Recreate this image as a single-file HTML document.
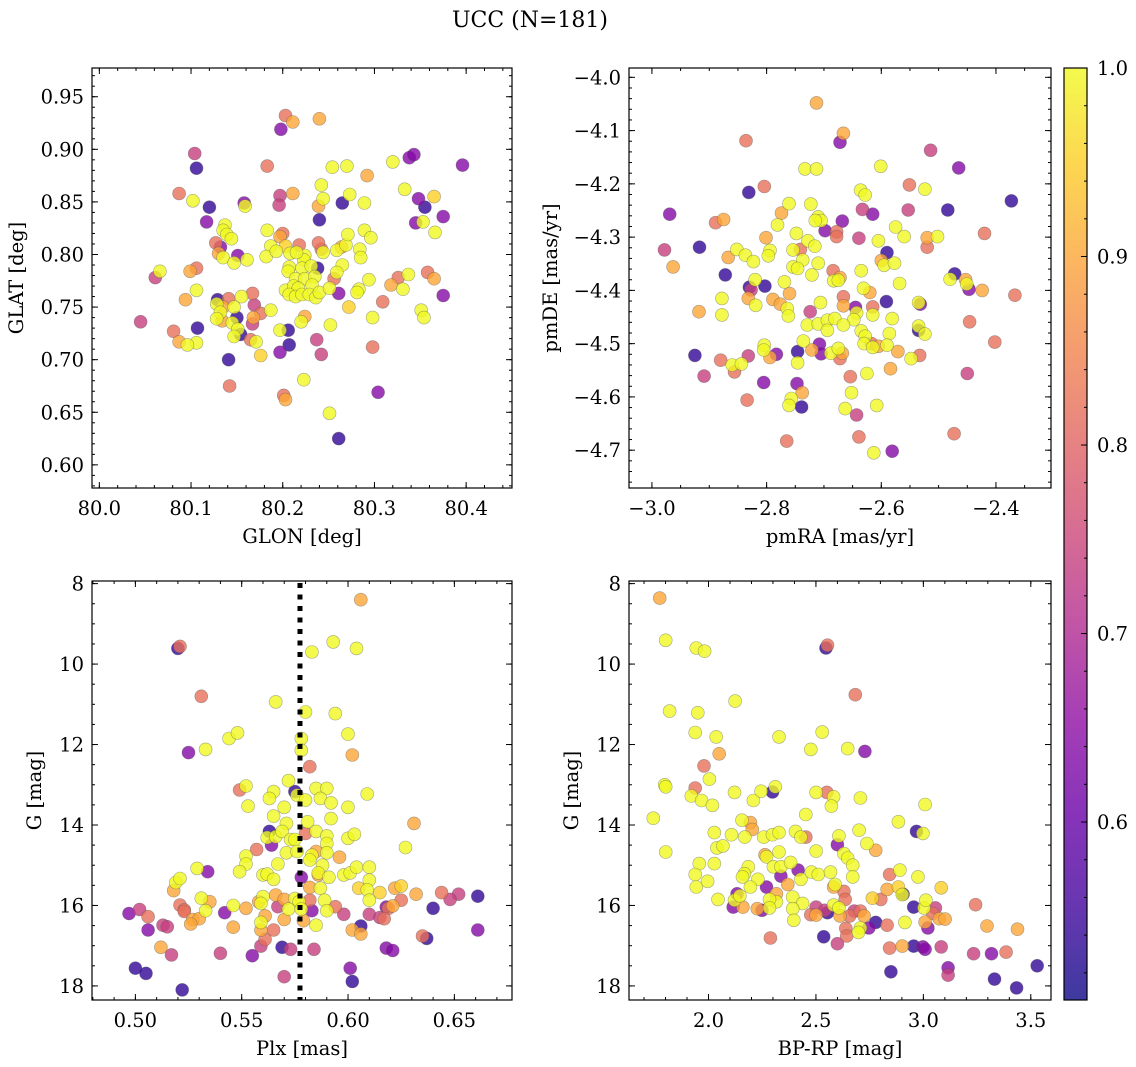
<!DOCTYPE html>
<html><head><meta charset="utf-8"><title>UCC (N=181)</title>
<style>
html,body{margin:0;padding:0;background:#fff;}
svg{display:block;font-family:"DejaVu Serif","Liberation Serif",serif;}
</style></head>
<body>
<svg id="chart" width="1136" height="1067" viewBox="0 0 1136 1067" xmlns="http://www.w3.org/2000/svg">
<defs>
<linearGradient id="plasmaGrad" x1="0" y1="1" x2="0" y2="0">
<stop offset="0" stop-color="#0d0887"/><stop offset="0.1" stop-color="#41049d"/><stop offset="0.2" stop-color="#6a00a8"/><stop offset="0.3" stop-color="#8f0da4"/><stop offset="0.4" stop-color="#b12a90"/><stop offset="0.5" stop-color="#cc4778"/><stop offset="0.6" stop-color="#e16462"/><stop offset="0.7" stop-color="#f2844b"/><stop offset="0.8" stop-color="#fca636"/><stop offset="0.9" stop-color="#fcce25"/><stop offset="1" stop-color="#f0f921"/>
</linearGradient>
</defs>
<text x="530" y="27" text-anchor="middle" font-size="22">UCC (N=181)</text>
</svg>
<script>
// ---------- Panel 1: GLON / GLAT ----------
const p1Glon=[80.203,80.211,80.240,80.198,80.104,80.106,80.183,80.338,80.343,80.396,80.320,80.254,80.270,80.292,80.087,80.102,80.120,80.117,80.158,80.159,80.197,80.196,80.211,80.242,80.244,80.239,80.240,80.265,80.273,80.289,80.333,80.348,80.355,80.365,80.345,80.353,80.375,80.366,80.137,80.135,80.139,80.144,80.127,80.132,80.130,80.135,80.147,80.151,80.161,80.183,80.187,80.182,80.193,80.197,80.200,80.203,80.208,80.218,80.224,80.223,80.215,80.207,80.206,80.221,80.231,80.238,80.242,80.239,80.244,80.259,80.269,80.271,80.264,80.289,80.296,80.284,80.285,80.265,80.259,80.256,80.214,80.224,80.235,80.232,80.203,80.212,80.217,80.207,80.214,80.221,80.229,80.236,80.240,80.251,80.261,80.272,80.283,80.281,80.294,80.318,80.326,80.331,80.337,80.358,80.365,80.375,80.351,80.354,80.309,80.298,80.298,80.252,80.237,80.242,80.224,80.220,80.187,80.197,80.206,80.207,80.197,80.176,80.169,80.167,80.168,80.167,80.165,80.171,80.176,80.155,80.141,80.129,80.128,80.135,80.132,80.147,80.150,80.128,80.134,80.145,80.151,80.154,80.147,80.141,80.142,80.106,80.107,80.106,80.096,80.087,80.081,80.094,80.106,80.099,80.066,80.061,80.045,80.223,80.201,80.203,80.251,80.304,80.261];
const p1Glat=[0.932,0.926,0.929,0.919,0.896,0.882,0.884,0.892,0.895,0.885,0.888,0.883,0.884,0.875,0.858,0.851,0.845,0.831,0.849,0.846,0.856,0.847,0.858,0.866,0.853,0.846,0.833,0.849,0.857,0.849,0.862,0.853,0.845,0.855,0.830,0.831,0.836,0.821,0.828,0.823,0.819,0.815,0.811,0.807,0.801,0.797,0.792,0.799,0.795,0.823,0.808,0.798,0.803,0.817,0.820,0.808,0.801,0.809,0.799,0.795,0.802,0.788,0.784,0.787,0.789,0.787,0.805,0.811,0.802,0.804,0.809,0.819,0.807,0.823,0.816,0.805,0.797,0.790,0.783,0.777,0.777,0.777,0.779,0.771,0.766,0.770,0.768,0.762,0.760,0.762,0.762,0.759,0.764,0.768,0.763,0.750,0.767,0.764,0.776,0.771,0.778,0.767,0.781,0.783,0.777,0.761,0.747,0.740,0.755,0.740,0.712,0.733,0.719,0.705,0.741,0.736,0.747,0.728,0.728,0.714,0.707,0.744,0.752,0.763,0.740,0.734,0.719,0.717,0.704,0.760,0.758,0.757,0.753,0.750,0.745,0.750,0.740,0.739,0.737,0.735,0.729,0.724,0.722,0.700,0.675,0.766,0.730,0.716,0.714,0.717,0.727,0.757,0.787,0.784,0.784,0.778,0.736,0.681,0.666,0.662,0.649,0.669,0.625];
const p1Prob=[.82,.9,.9,.64,.74,.54,.82,.64,.64,.64,1,1,1,.9,.82,1,.54,.64,.64,1,.74,.74,.9,1,1,.9,.54,.54,1,1,1,.64,.54,.95,.64,1,.64,1,1,1,1,1,.82,.64,.9,1,1,.64,1,1,1,1,1,.9,.82,.95,1,.82,1,1,1,1,1,1,1,.54,.82,.82,1,1,1,1,.9,1,1,1,1,1,1,.82,1,1,1,1,1,1,1,1,1,1,1,1,1,1,.64,.95,1,1,1,.9,.82,1,1,.82,.9,.64,1,1,.82,1,.82,1,.74,.74,.9,1,1,1,.54,.54,.64,.82,.74,.82,.9,.74,.82,1,.95,1,.82,.54,1,.9,1,1,.54,1,.9,1,1,.54,1,.54,.82,1,.54,1,1,.9,.82,.9,.82,.9,1,.74,.74,1,.82,.9,1,.64,.54];

// ---------- Panel 2: pmRA / pmDE ----------
const p2Pmra=[-2.713,-2.836,-2.666,-2.672,-2.514,-2.465,-2.733,-2.713,-2.601,-2.831,-2.804,-2.551,-2.524,-2.636,-2.628,-2.373,-2.484,-2.553,-2.633,-2.615,-2.969,-2.889,-2.875,-2.761,-2.774,-2.781,-2.723,-2.710,-2.705,-2.715,-2.668,-2.698,-2.678,-2.678,-2.639,-2.575,-2.560,-2.502,-2.520,-2.520,-2.420,-2.605,-2.801,-2.748,-2.728,-2.716,-2.978,-2.917,-2.963,-2.867,-2.852,-2.837,-2.823,-2.794,-2.797,-2.754,-2.741,-2.737,-2.710,-2.754,-2.746,-2.872,-2.721,-2.684,-2.672,-2.683,-2.675,-2.635,-2.600,-2.595,-2.577,-2.590,-2.568,-2.472,-2.480,-2.453,-2.451,-2.447,-2.424,-2.367,-2.820,-2.830,-2.827,-2.832,-2.803,-2.769,-2.760,-2.789,-2.776,-2.764,-2.762,-2.819,-2.878,-2.878,-2.918,-2.706,-2.666,-2.666,-2.645,-2.643,-2.648,-2.631,-2.620,-2.615,-2.615,-2.591,-2.581,-2.535,-2.532,-2.724,-2.729,-2.710,-2.694,-2.681,-2.666,-2.694,-2.635,-2.628,-2.630,-2.617,-2.615,-2.605,-2.586,-2.590,-2.535,-2.524,-2.535,-2.446,-2.402,-2.736,-2.804,-2.805,-2.708,-2.705,-2.721,-2.688,-2.675,-2.668,-2.672,-2.746,-2.783,-2.794,-2.746,-2.925,-2.880,-2.860,-2.844,-2.856,-2.832,-2.909,-2.571,-2.548,-2.533,-2.584,-2.625,-2.654,-2.805,-2.747,-2.738,-2.652,-2.757,-2.761,-2.739,-2.834,-2.663,-2.608,-2.643,-2.450,-2.765,-2.639,-2.473,-2.613,-2.581];
const p2Pmde=[-4.048,-4.119,-4.105,-4.122,-4.137,-4.170,-4.172,-4.172,-4.167,-4.216,-4.205,-4.202,-4.210,-4.212,-4.221,-4.232,-4.249,-4.249,-4.248,-4.257,-4.257,-4.273,-4.267,-4.237,-4.255,-4.277,-4.238,-4.262,-4.269,-4.269,-4.270,-4.288,-4.290,-4.299,-4.302,-4.281,-4.299,-4.299,-4.301,-4.319,-4.293,-4.307,-4.301,-4.293,-4.307,-4.317,-4.324,-4.319,-4.356,-4.338,-4.323,-4.334,-4.346,-4.325,-4.335,-4.324,-4.323,-4.343,-4.349,-4.356,-4.359,-4.371,-4.371,-4.363,-4.376,-4.382,-4.381,-4.363,-4.344,-4.353,-4.349,-4.329,-4.387,-4.369,-4.379,-4.380,-4.388,-4.398,-4.400,-4.409,-4.380,-4.394,-4.399,-4.415,-4.392,-4.384,-4.406,-4.417,-4.426,-4.434,-4.448,-4.428,-4.415,-4.446,-4.440,-4.423,-4.412,-4.429,-4.432,-4.442,-4.455,-4.396,-4.404,-4.431,-4.446,-4.421,-4.453,-4.423,-4.426,-4.440,-4.465,-4.463,-4.456,-4.453,-4.465,-4.475,-4.476,-4.486,-4.500,-4.500,-4.507,-4.505,-4.481,-4.503,-4.467,-4.482,-4.475,-4.459,-4.497,-4.495,-4.503,-4.512,-4.501,-4.519,-4.512,-4.518,-4.509,-4.518,-4.528,-4.515,-4.520,-4.526,-4.536,-4.522,-4.531,-4.540,-4.538,-4.553,-4.523,-4.561,-4.515,-4.528,-4.522,-4.547,-4.556,-4.562,-4.573,-4.575,-4.592,-4.592,-4.603,-4.616,-4.619,-4.606,-4.622,-4.616,-4.634,-4.556,-4.683,-4.675,-4.669,-4.705,-4.702];
const p2Prob=[.9,.82,.9,.64,.74,.64,1,1,1,.54,.82,.82,1,1,1,.54,.54,.74,.74,.64,.64,.82,.9,1,.9,1,1,1,1,1,.64,.64,.82,.82,.74,1,1,1,.9,.82,.82,1,.9,1,1,1,.74,.54,.9,.9,1,1,1,1,1,1,.82,1,1,1,1,.54,1,.82,.9,1,1,1,.9,1,1,.54,1,.54,1,.9,1,.64,.9,.82,1,.54,.74,.9,.54,1,.9,.9,.9,1,1,1,1,1,.9,1,.82,.9,.64,1,1,1,.9,.82,1,.54,1,1,.64,.74,1,1,1,1,1,1,1,1,1,.82,1,.9,1,1,1,1,.54,.82,.82,1,1,1,.64,.64,.9,1,1,.9,.82,.54,.64,.9,1,.54,.82,1,1,.82,.74,.74,.9,1,.82,.9,1,.82,.64,.64,.9,1,1,1,.54,.82,1,1,.74,.74,.82,.82,.82,1,.64];

// ---------- Panel 3: Plx / G ----------
const p3Plx=[0.606,0.593,0.583,0.604,0.520,0.521,0.531,0.566,0.580,0.594,0.544,0.548,0.533,0.525,0.600,0.578,0.578,0.602,0.582,0.572,0.549,0.552,0.565,0.563,0.575,0.576,0.580,0.585,0.590,0.587,0.592,0.609,0.553,0.570,0.600,0.565,0.571,0.581,0.592,0.631,0.563,0.562,0.566,0.569,0.573,0.575,0.580,0.585,0.590,0.590,0.600,0.603,0.627,0.557,0.564,0.571,0.576,0.583,0.582,0.585,0.590,0.596,0.552,0.552,0.567,0.549,0.529,0.534,0.519,0.521,0.518,0.560,0.562,0.565,0.578,0.588,0.586,0.591,0.586,0.598,0.601,0.604,0.610,0.610,0.605,0.609,0.615,0.587,0.582,0.622,0.625,0.632,0.644,0.652,0.661,0.648,0.531,0.535,0.546,0.552,0.560,0.559,0.558,0.566,0.570,0.575,0.577,0.582,0.589,0.590,0.594,0.610,0.625,0.621,0.619,0.618,0.640,0.521,0.523,0.523,0.497,0.502,0.506,0.527,0.530,0.533,0.542,0.561,0.567,0.572,0.578,0.583,0.579,0.570,0.598,0.610,0.615,0.617,0.526,0.513,0.515,0.506,0.546,0.559,0.559,0.565,0.585,0.606,0.602,0.606,0.661,0.637,0.635,0.561,0.559,0.569,0.573,0.584,0.512,0.517,0.540,0.555,0.618,0.621,0.500,0.505,0.570,0.601,0.602,0.522];
const p3G=[8.40,9.45,9.70,9.61,9.61,9.56,10.80,10.94,11.19,11.23,11.85,11.71,12.12,12.20,11.74,11.85,12.14,12.26,12.55,12.90,13.13,13.03,13.17,13.34,13.17,13.26,13.38,13.09,13.09,13.34,13.45,13.23,13.53,13.56,13.56,13.78,13.96,13.92,13.84,13.96,14.16,14.31,14.29,14.16,14.36,14.36,14.21,14.16,14.27,14.46,14.33,14.23,14.56,14.61,14.50,14.69,14.66,14.75,14.87,14.66,14.69,14.80,14.77,14.97,14.97,15.16,15.08,15.16,15.43,15.33,15.63,15.24,15.22,15.35,15.30,15.00,15.19,15.30,15.24,15.24,15.19,15.05,15.05,15.37,15.57,15.61,15.68,15.57,15.55,15.57,15.52,15.72,15.68,15.72,15.77,15.85,15.82,15.91,16.00,16.07,15.78,15.95,15.91,15.74,15.85,15.83,15.91,15.87,15.87,16.13,16.03,15.87,15.87,16.01,16.07,16.04,16.07,15.99,16.11,16.15,16.20,16.10,16.28,16.35,16.33,16.13,16.18,16.26,16.03,16.09,16.09,16.13,16.38,16.35,16.22,16.22,16.30,16.33,16.46,16.49,16.53,16.61,16.54,16.42,16.61,16.61,16.49,16.51,16.61,16.71,16.61,16.82,16.76,16.84,17.01,17.04,17.09,17.09,17.04,17.23,17.19,17.25,17.06,17.12,17.56,17.69,17.77,17.56,17.89,18.10];
const p3Prob=[.9,1,1,1,.54,.82,.82,1,1,1,1,1,1,.64,1,1,1,.9,.82,1,.82,1,1,1,.54,1,1,1,1,1,1,1,1,1,1,1,1,1,1,.9,.54,1,1,1,1,1,.82,1,1,1,1,1,1,.82,.64,1,1,1,1,.9,1,.9,1,1,1,1,1,.64,1,1,.9,1,1,1,.64,1,1,1,.9,1,1,1,1,1,.95,1,.95,1,.9,.9,.95,.9,.82,.74,.54,.74,1,.9,1,.9,1,1,.9,.9,.9,1,1,.82,1,1,.82,1,.82,.9,.82,.64,.54,.82,.82,.82,.64,.74,.82,.9,.9,1,.64,.9,.74,1,1,.64,.9,.9,.74,.74,.74,.82,.9,.74,.74,.64,.9,1,.9,.82,1,.54,.9,.9,.64,.54,.82,.82,.74,.54,.74,.74,.9,.74,.74,.64,.64,.64,.54,.54,.74,.64,.54,.54];

// ---------- Panel 4: BP-RP / G ----------
const p4Bprp=[1.773,1.801,1.943,1.982,2.547,2.554,1.819,1.950,2.124,2.683,1.938,2.036,2.328,2.529,2.476,2.648,2.728,2.050,1.979,1.796,1.801,2.004,1.938,1.920,1.968,2.018,2.121,2.209,2.245,2.298,2.311,2.501,2.551,2.582,2.572,2.707,1.743,2.453,2.156,2.195,2.204,3.008,2.884,2.968,2.998,2.027,2.107,2.169,2.257,2.298,2.328,2.405,2.453,2.430,2.607,2.701,2.600,2.737,2.778,1.801,2.039,2.067,2.328,2.263,2.270,2.501,2.630,2.648,2.671,1.957,2.027,2.185,2.167,2.158,2.302,2.337,2.382,2.417,2.337,2.430,2.479,2.511,2.568,2.671,1.938,1.943,1.996,2.230,2.195,2.369,2.270,2.589,2.582,2.630,2.636,2.843,2.891,2.975,3.083,2.831,2.884,2.905,2.902,2.763,2.802,2.044,2.121,2.146,2.133,2.115,2.160,2.316,2.316,2.284,2.392,2.438,2.227,2.249,2.284,2.392,2.397,2.476,2.501,2.501,2.541,2.554,2.582,2.607,2.612,2.678,2.657,2.724,2.707,2.955,3.003,3.012,3.056,3.044,3.074,3.101,3.008,3.021,2.914,2.778,2.831,2.746,2.707,2.698,2.639,2.643,2.536,2.288,2.600,3.243,3.296,3.438,2.843,2.902,2.955,2.998,3.008,3.083,3.234,3.317,3.385,3.115,3.115,2.849,3.331,3.434,3.530];
const p4G=[8.36,9.41,9.60,9.68,9.60,9.53,11.17,11.21,10.92,10.76,11.70,11.81,11.81,11.69,12.12,12.10,12.17,12.23,12.53,13.00,13.05,12.86,13.08,13.28,13.39,13.51,13.19,13.39,13.16,13.18,13.05,13.19,13.19,13.30,13.53,13.33,13.83,13.74,13.88,13.94,14.11,13.49,13.92,14.16,14.21,14.19,14.24,14.30,14.30,14.24,14.19,14.16,14.30,14.30,14.27,14.13,14.49,14.46,14.63,14.67,14.57,14.52,14.67,14.74,14.79,14.65,14.71,14.82,15.00,14.96,14.96,15.04,15.21,15.29,15.04,15.04,14.93,15.12,15.27,15.35,15.17,15.23,15.17,15.29,15.23,15.54,15.40,15.35,15.54,15.48,15.54,15.48,15.54,15.65,15.85,15.23,15.12,15.29,15.56,15.60,15.54,15.72,15.73,15.82,15.85,15.85,15.87,15.76,15.71,16.04,16.04,15.71,15.91,15.85,15.79,15.95,16.08,16.12,16.06,16.08,16.37,16.23,16.04,16.24,16.12,16.18,15.99,16.06,16.26,16.14,16.26,16.26,16.14,16.04,16.06,15.87,16.06,16.20,16.33,16.34,16.41,16.56,16.42,16.42,16.49,16.56,16.56,16.67,16.57,16.76,16.78,16.81,16.95,15.98,16.51,16.59,17.06,17.01,17.01,17.03,17.09,17.03,17.20,17.20,17.16,17.55,17.73,17.65,17.83,18.05,17.50];
const p4Prob=[.9,1,1,1,.54,.82,1,1,1,.82,1,1,1,1,1,1,.64,.9,.82,1,1,1,.82,1,1,1,1,1,1,.54,1,1,.82,1,1,1,1,1,1,.9,.9,1,1,.54,1,1,1,1,1,1,1,1,.82,1,1,1,.64,1,.9,1,1,1,1,.9,1,1,1,1,1,1,1,1,1,1,1,1,1,.64,.64,1,1,1,1,1,1,1,1,1,1,.9,.64,1,.9,.82,.82,.82,1,1,.95,.9,.95,.54,1,.95,.82,1,1,1,.64,.64,.9,.9,1,1,1,1,.9,.64,1,1,1,.82,.74,.9,.74,.54,1,1,.9,.74,.82,.9,.82,.54,1,1,.74,.82,.9,.9,.9,.64,1,.54,.82,.64,1,1,.82,.82,.54,.82,.74,.82,.9,.9,.82,.9,.54,.64,.64,.74,.74,.64,.82,.64,.74,.54,.54,.54,.54];

const plxLine=[0.5774];
const cbarTicks=[0.6,0.7,0.8,0.9,1.0];
const VMIN=0.5056, VMAX=1.0;

const NS="http://www.w3.org/2000/svg";
const svg=document.getElementById('chart');
const TICKFS=19.5, LABFS=19.5;
const plasma=['#0d0887','#41049d','#6a00a8','#8f0da4','#b12a90','#cc4778','#e16462','#f2844b','#fca636','#fcce25','#f0f921'];
function hex(h){return [parseInt(h.substr(1,2),16),parseInt(h.substr(3,2),16),parseInt(h.substr(5,2),16)];}
function cmap(v){
  let t=(v-VMIN)/(VMAX-VMIN); t=Math.max(0,Math.min(1,t));
  const f=t*10, i=Math.min(9,Math.floor(f)), r=f-i;
  const a=hex(plasma[i]), b=hex(plasma[i+1]);
  return 'rgb('+a.map((c,k)=>Math.round(c+(b[k]-c)*r)).join(',')+')';
}
function el(tag,attrs,parent){
  const e=document.createElementNS(NS,tag);
  for(const k in attrs) e.setAttribute(k,attrs[k]);
  (parent||svg).appendChild(e);
  return e;
}
function fmt(v,d){return (v<0?'\u2212':'')+Math.abs(v).toFixed(d);}

function makeAxes(cfg){
  const g=el('g',{});
  
  
  const sx=v=>cfg.px0+(v-cfg.xd0)/(cfg.xd1-cfg.xd0)*(cfg.px1-cfg.px0);
  const sy=cfg.invert? (v=>cfg.py0+(v-cfg.yd0)/(cfg.yd1-cfg.yd0)*(cfg.py1-cfg.py0))
                     : (v=>cfg.py1-(v-cfg.yd0)/(cfg.yd1-cfg.yd0)*(cfg.py1-cfg.py0));
  const ticks=(lo,hi,step)=>{const out=[];const s=Math.ceil(lo/step-1e-6);for(let k=s;k*step<=hi+1e-9;k++)out.push(+(k*step).toFixed(6));return out;};
  const xlo=Math.min(cfg.xd0,cfg.xd1), xhi=Math.max(cfg.xd0,cfg.xd1);
  const ylo=Math.min(cfg.yd0,cfg.yd1), yhi=Math.max(cfg.yd0,cfg.yd1);
  const tg=el('g',{stroke:'#000','stroke-width':1},g);
  ticks(xlo,xhi,cfg.xminor).forEach(v=>{const x=sx(v);el('line',{x1:x,x2:x,y1:cfg.py1,y2:cfg.py1-3},tg);el('line',{x1:x,x2:x,y1:cfg.py0,y2:cfg.py0+3},tg);});
  ticks(ylo,yhi,cfg.yminor).forEach(v=>{const y=sy(v);el('line',{x1:cfg.px0,x2:cfg.px0+3,y1:y,y2:y},tg);el('line',{x1:cfg.px1,x2:cfg.px1-3,y1:y,y2:y},tg);});
  ticks(xlo,xhi,cfg.xmajor).forEach(v=>{const x=sx(v);el('line',{x1:x,x2:x,y1:cfg.py1,y2:cfg.py1-6},tg);el('line',{x1:x,x2:x,y1:cfg.py0,y2:cfg.py0+6},tg);
    const t=el('text',{x:x,y:cfg.py1+27,'text-anchor':'middle','font-size':TICKFS,stroke:'none',fill:'#000'},g);t.textContent=fmt(v,cfg.xdec);
    
    });
  ticks(ylo,yhi,cfg.ymajor).forEach(v=>{const y=sy(v);el('line',{x1:cfg.px0,x2:cfg.px0+6,y1:y,y2:y},tg);el('line',{x1:cfg.px1,x2:cfg.px1-6,y1:y,y2:y},tg);
    const t=el('text',{x:cfg.px0-8,y:y+7,'text-anchor':'end','font-size':TICKFS,fill:'#000'},g);t.textContent=fmt(v,cfg.ydec);
    
    });
  const fr=el('rect',{x:cfg.px0,y:cfg.py0,width:cfg.px1-cfg.px0,height:cfg.py1-cfg.py0,fill:'none',stroke:'#000','stroke-width':1.2},g);
  
  
  const xl=el('text',{x:(cfg.px0+cfg.px1)/2,y:cfg.py1+55,'text-anchor':'middle','font-size':LABFS},g);xl.textContent=cfg.xlabel;
  
  
  const yx=cfg.ylabx, yy=(cfg.py0+cfg.py1)/2;
  const yl=el('text',{x:yx,y:yy,'text-anchor':'middle','font-size':LABFS,transform:'rotate(-90 '+yx+' '+yy+')'},g);yl.textContent=cfg.ylabel;
  
  
  return {g,sx,sy};
}

function scatter(ax,xs,ys,ps,name){
  const idx=xs.map((_,i)=>i).sort((a,b)=>ps[a]-ps[b]);
  const cg=el('g',{},ax.g);
  
  
  idx.forEach(i=>{
    const c=el('circle',{cx:ax.sx(xs[i]).toFixed(1),cy:ax.sy(ys[i]).toFixed(1),r:6.5,fill:cmap(ps[i]),'fill-opacity':0.8,stroke:'#555','stroke-opacity':0.5,'stroke-width':0.6},cg);
    
    
  });
}

const a1=makeAxes({name:'panel-glon-glat',px0:92,px1:512,py0:68,py1:488,xd0:79.992,xd1:80.450,yd0:0.578,yd1:0.9773,xmajor:0.1,xminor:0.02,ymajor:0.05,yminor:0.01,xdec:1,ydec:2,xlabel:'GLON [deg]',ylabel:'GLAT [deg]',ylabx:23});
scatter(a1,p1Glon,p1Glat,p1Prob,'glon-glat-points');

const a2=makeAxes({name:'panel-pmra-pmde',px0:629,px1:1051,py0:68,py1:488,xd0:-3.040,xd1:-2.304,yd0:-4.771,yd1:-3.9825,xmajor:0.2,xminor:0.05,ymajor:0.1,yminor:0.02,xdec:1,ydec:1,xlabel:'pmRA [mas/yr]',ylabel:'pmDE [mas/yr]',ylabx:557});
scatter(a2,p2Pmra,p2Pmde,p2Prob,'pmra-pmde-points');

const a3=makeAxes({name:'panel-plx-g',px0:92,px1:512,py0:581,py1:1000,xd0:0.4796,xd1:0.6771,yd0:7.935,yd1:18.35,invert:true,xmajor:0.05,xminor:0.01,ymajor:2,yminor:0.5,xdec:2,ydec:0,xlabel:'Plx [mas]',ylabel:'G [mag]',ylabx:41});
scatter(a3,p3Plx,p3G,p3Prob,'plx-g-points');
plxLine.forEach(v=>{
  const ln=el('line',{x1:a3.sx(v),x2:a3.sx(v),y1:583,y2:1000,stroke:'#000','stroke-width':5,'stroke-dasharray':'5,6.5'},a3.g);
  
  
});

const a4=makeAxes({name:'panel-bprp-g',px0:629,px1:1051,py0:581,py1:1000,xd0:1.630,xd1:3.594,yd0:7.935,yd1:18.35,invert:true,xmajor:0.5,xminor:0.1,ymajor:2,yminor:0.5,xdec:1,ydec:0,xlabel:'BP-RP [mag]',ylabel:'G [mag]',ylabx:578});
scatter(a4,p4Bprp,p4G,p4Prob,'bprp-g-points');

// colorbar
const cb=el('g',{});


const cx0=1064,cx1=1087,cy0=68,cy1=1000;
const cys=v=>cy1-(v-VMIN)/(VMAX-VMIN)*(cy1-cy0);
el('rect',{x:cx0,y:cy0,width:cx1-cx0,height:cy1-cy0,fill:'url(#plasmaGrad)','fill-opacity':0.8},cb);
for(let k=26;k<=50;k++){const v=k*0.02;if(v<VMIN-1e-9)continue;const y=cys(v);el('line',{x1:cx1,x2:cx1-3,y1:y,y2:y,stroke:'#000'},cb);}
cbarTicks.forEach(v=>{const y=cys(v);el('line',{x1:cx1,x2:cx1-6,y1:y,y2:y,stroke:'#000'},cb);
  const t=el('text',{x:cx1+10,y:y+7,'font-size':TICKFS},cb);t.textContent=v.toFixed(1);
  
  });
el('rect',{x:cx0,y:cy0,width:cx1-cx0,height:cy1-cy0,fill:'none',stroke:'#000','stroke-width':1.2},cb);
</script>
</body></html>
